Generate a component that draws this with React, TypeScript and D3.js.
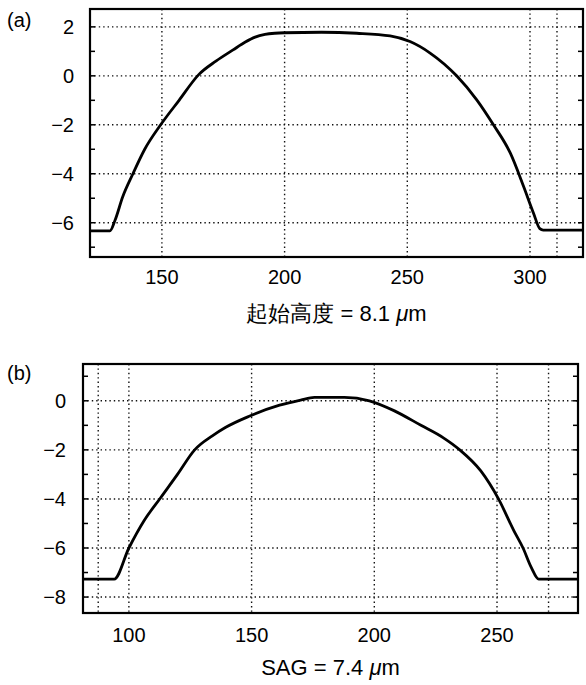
import * as d3 from "d3";

// panel (a)
const aX = [121, 128.8, 130.9, 134, 138.2, 143, 149.5, 157, 165, 172, 179, 184, 188, 192, 196, 200, 215, 229.4, 243, 251.1, 259.3, 270.1, 278.3, 285.1, 292, 297.4, 301.4, 304, 305.4, 322];
const aY = [-6.33, -6.33, -5.9, -4.95, -4.0, -3.0, -2.0, -1.0, 0.05, 0.6, 1.06, 1.38, 1.58, 1.69, 1.74, 1.76, 1.78, 1.74, 1.63, 1.4, 0.93, 0, -0.98, -2, -3.16, -4.52, -5.6, -6.24, -6.3, -6.3];
const aXTicks = [150, 200, 250, 300];
const aYTicks = [2, 0, -2, -4, -6];
const aExtraGrid = [311];

// panel (b)
const bX = [81.3, 94, 100, 106.1, 113, 119.8, 126.8, 134, 139.3, 149, 161.4, 170, 175.6, 187.8, 198, 208, 219, 228, 234.8, 243.4, 250.6, 256.9, 260.6, 264, 267, 283];
const bY = [-7.27, -7.27, -6, -4.9, -3.94, -3.0, -2, -1.43, -1.09, -0.63, -0.18, 0.03, 0.14, 0.14, 0, -0.4, -1, -1.5, -2, -2.86, -4.0, -5.3, -6.0, -6.8, -7.27, -7.27];
const bXTicks = [100, 150, 200, 250];
const bYTicks = [0, -2, -4, -6, -8];
const bExtraGrid = [87.5, 271];

const FONT = "Liberation Sans, Arial, Helvetica, sans-serif";

type PanelProps = {
  xs: number[];
  ys: number[];
  xDomain: [number, number];
  yDomain: [number, number];
  box: { left: number; right: number; top: number; bottom: number };
  xTicks: number[];
  yTicks: number[];
  extraGrid: number[];
  tag: string;
  tagY: number;
  labelX: number;
  xLabelGap: number;
  caption: React.ReactNode;
  captionY: number;
};

function Panel(p: PanelProps) {
  const { xs, ys, box } = p;
  const x = d3.scaleLinear().domain(p.xDomain).range([box.left, box.right]);
  const y = d3.scaleLinear().domain(p.yDomain).range([box.bottom, box.top]);
  const line = d3
    .line<number>()
    .x((_, i) => x(xs[i]))
    .y((d) => y(d))
    .curve(d3.curveMonotoneX);
  const minor = d3.range(Math.ceil(p.yDomain[0]), Math.floor(p.yDomain[1]) + 1);
  const dots = "1.4,3";
  return (
    <g>
      <text x={7} y={p.tagY} fontSize={20} fontFamily={FONT}>{p.tag}</text>
      {/* grid */}
      {p.yTicks.map((t) => (
        <line key={"h" + t} x1={box.left} x2={box.right} y1={y(t)} y2={y(t)} stroke="#111" strokeWidth={1.4} strokeDasharray={dots} />
      ))}
      {[...p.xTicks, ...p.extraGrid].map((t) => (
        <line key={"v" + t} x1={x(t)} x2={x(t)} y1={box.top} y2={box.bottom} stroke="#111" strokeWidth={1.4} strokeDasharray={dots} />
      ))}
      {/* minor ticks */}
      {minor.map((t) => (
        <g key={"m" + t}>
          <line x1={box.left} x2={box.left + 5} y1={y(t)} y2={y(t)} stroke="#000" strokeWidth={1.5} />
          <line x1={box.right} x2={box.right - 5} y1={y(t)} y2={y(t)} stroke="#000" strokeWidth={1.5} />
        </g>
      ))}
      <rect x={box.left} y={box.top} width={box.right - box.left} height={box.bottom - box.top} fill="none" stroke="#000" strokeWidth={2.2} />
      <path d={line(ys) ?? ""} fill="none" stroke="#000" strokeWidth={2.8} strokeLinejoin="round" />
      {p.yTicks.map((t) => (
        <text key={"yl" + t} x={p.labelX} y={y(t)} dy="0.36em" textAnchor="end" fontSize={20} fontFamily={FONT}>
          {t < 0 ? "\u2212" + Math.abs(t) : t}
        </text>
      ))}
      {p.xTicks.map((t) => (
        <text key={"xl" + t} x={x(t)} y={box.bottom + p.xLabelGap} textAnchor="middle" fontSize={20} fontFamily={FONT}>
          {t}
        </text>
      ))}
      <text x={(box.left + box.right) / 2} y={p.captionY} textAnchor="middle" fontSize={22} fontFamily={FONT}>
        {p.caption}
      </text>
    </g>
  );
}

export default function App() {
  return (
    <svg width={586} height={685} style={{ position: "absolute", left: 0, top: 0, background: "#fff" }}>
      <Panel
        xs={aX}
        ys={aY}
        xDomain={[120.7, 321.6]}
        yDomain={[-7.4, 2.73]}
        box={{ left: 90, right: 583, top: 9, bottom: 257 }}
        xTicks={aXTicks}
        yTicks={aYTicks}
        extraGrid={aExtraGrid}
        tag="(a)"
        tagY={27}
        labelX={74}
        xLabelGap={27}
        caption={<>起始高度 = 8.1 <tspan fontStyle="italic">μ</tspan>m</>}
        captionY={321}
      />
      <Panel
        xs={bX}
        ys={bY}
        xDomain={[81.3, 283]}
        yDomain={[-8.65, 1.5]}
        box={{ left: 83, right: 578, top: 364, bottom: 613 }}
        xTicks={bXTicks}
        yTicks={bYTicks}
        extraGrid={bExtraGrid}
        tag="(b)"
        tagY={380}
        labelX={66}
        xLabelGap={29}
        caption={<>SAG = 7.4 <tspan fontStyle="italic">μ</tspan>m</>}
        captionY={675}
      />
    </svg>
  );
}
